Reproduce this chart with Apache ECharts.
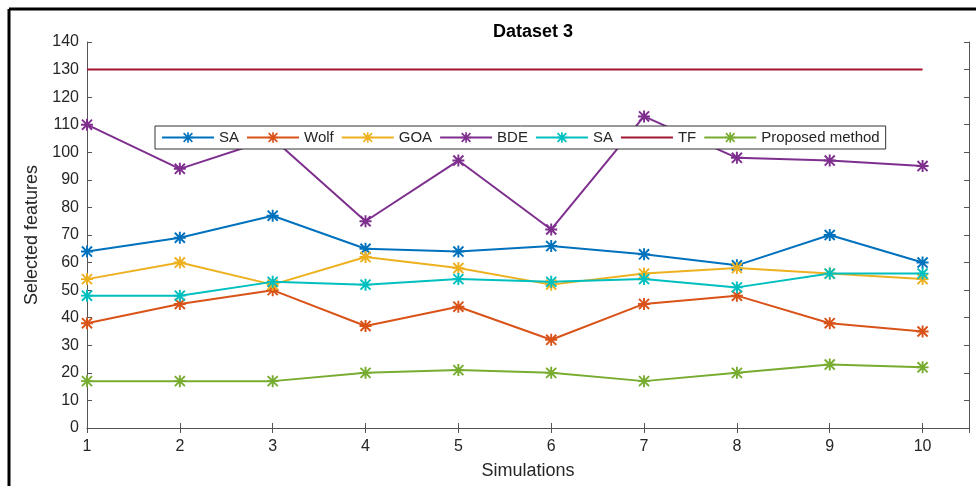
<!DOCTYPE html>
<html>
<head>
<meta charset="utf-8">
<script src="https://cdn.jsdelivr.net/npm/echarts@6/dist/echarts.min.js"></script>
<style>
  html, body { margin: 0; padding: 0; background: #fff; }
  #chart { width: 976px; height: 486px; }
</style>
</head>
<body>
<div id="chart"></div>
<script>
// simulation numbers on the x axis
const simulations = [1, 2, 3, 4, 5, 6, 7, 8, 9, 10];

// selected features per method
const saA = [64, 69, 77, 65, 64, 66, 63, 59, 70, 60];
const wolf = [38, 45, 50, 37, 44, 32, 45, 48, 38, 35];
const goa = [54, 60, 52, 62, 58, 52, 56, 58, 56, 54];
const bde = [110, 94, 105, 75, 97, 72, 113, 98, 97, 95];
const saB = [48, 48, 53, 52, 54, 53, 54, 51, 56, 56];
const tf = [130, 130, 130, 130, 130, 130, 130, 130, 130, 130];
const proposed = [17, 17, 17, 20, 21, 20, 17, 20, 23, 22];

// second "SA" gets a trailing space so the legend keeps both entries
const names = ['SA', 'Wolf', 'GOA', 'BDE', 'SA ', 'TF', 'Proposed method'];
const colors = ['#0072BD', '#D95319', '#EDB120', '#7E2F8E', '#00BFBF', '#A2142F', '#77AC30'];
const values = [saA, wolf, goa, bde, saB, tf, proposed];

// asterisk marker (matlab '*')
const star = 'path://M4.2 0 L5.8 0 L5.8 10 L4.2 10 Z M0 4.2 L10 4.2 L10 5.8 L0 5.8 Z ' +
  'M1.37 0.23 L9.77 8.63 L8.63 9.77 L0.23 1.37 Z M9.77 1.37 L1.37 9.77 L0.23 8.63 L8.63 0.23 Z';

const axisColor = '#555';
const textColor = '#262626';
const font = 'Liberation Sans, Arial, sans-serif';

const series = values.map((vals, i) => ({
  name: names[i],
  type: 'line',
  data: vals.map((v, j) => [simulations[j], v]),
  symbol: names[i] === 'TF' ? 'none' : star,
  symbolSize: 12,
  showSymbol: names[i] !== 'TF',
  color: colors[i],
  lineStyle: { width: 2, color: colors[i] },
  itemStyle: { color: colors[i] },
  emphasis: { disabled: true },
  animation: false
}));

// TF has no marker, so hide the legend symbol for it
const legendData = names.map(n => (n === 'TF' ? { name: n, itemStyle: { opacity: 0 } } : n));

const chart = echarts.init(document.getElementById('chart'), null, { renderer: 'canvas' });
chart.setOption({
  backgroundColor: '#fff',
  textStyle: { fontFamily: font },
  title: {
    text: 'Dataset 3',
    left: 528,
    textAlign: 'center',
    top: 18,
    textStyle: { fontSize: 18, fontWeight: 'bold', color: '#000', fontFamily: font }
  },
  legend: {
    data: legendData,
    left: 155,
    top: 126,
    orient: 'horizontal',
    itemWidth: 52,
    itemHeight: 13,
    itemGap: 7,
    padding: [4, 6],
    borderColor: '#333',
    borderWidth: 1,
    backgroundColor: '#fff',
    formatter: name => name.trim(),
    textStyle: { fontSize: 15, color: textColor, fontFamily: font }
  },
  grid: { left: 87, right: 7, top: 42, bottom: 58 },
  xAxis: [
    {
      type: 'value',
      min: 1,
      max: 10.5,
      interval: 1,
      name: 'Simulations',
      nameLocation: 'middle',
      nameGap: 34,
      nameTextStyle: { fontSize: 18, color: textColor },
      axisLine: { show: true, lineStyle: { color: axisColor, width: 1 } },
      axisTick: { inside: true, length: 5, lineStyle: { color: axisColor } },
      axisLabel: {
        fontSize: 16, color: textColor, margin: 11,
        formatter: v => (Number.isInteger(v) ? String(v) : '')
      },
      splitLine: { show: false }
    },
    {
      type: 'value',
      position: 'top',
      min: 1,
      max: 10.5,
      interval: 1,
      axisLine: { show: true, lineStyle: { color: axisColor, width: 1 } },
      axisTick: { inside: true, length: 5, lineStyle: { color: axisColor } },
      axisLabel: { show: false },
      splitLine: { show: false }
    }
  ],
  yAxis: [
    {
      type: 'value',
      min: 0,
      max: 140,
      interval: 10,
      name: 'Selected features',
      nameLocation: 'middle',
      nameGap: 40,
      nameTextStyle: { fontSize: 18, color: textColor },
      axisLine: { show: true, lineStyle: { color: axisColor, width: 1 } },
      axisTick: { inside: true, length: 5, lineStyle: { color: axisColor } },
      axisLabel: { fontSize: 16, color: textColor, margin: 8 },
      splitLine: { show: false }
    },
    {
      type: 'value',
      position: 'right',
      min: 0,
      max: 140,
      interval: 10,
      axisLine: { show: true, lineStyle: { color: axisColor, width: 1 } },
      axisTick: { inside: true, length: 5, lineStyle: { color: axisColor } },
      axisLabel: { show: false },
      splitLine: { show: false }
    }
  ],
  // black frame round the figure (top and left edges)
  graphic: [
    { type: 'line', shape: { x1: 9, y1: 9, x2: 976, y2: 9 }, style: { stroke: '#000', lineWidth: 3 } },
    { type: 'line', shape: { x1: 9, y1: 9, x2: 9, y2: 486 }, style: { stroke: '#000', lineWidth: 3 } }
  ],
  series: series
});
</script>
</body>
</html>
